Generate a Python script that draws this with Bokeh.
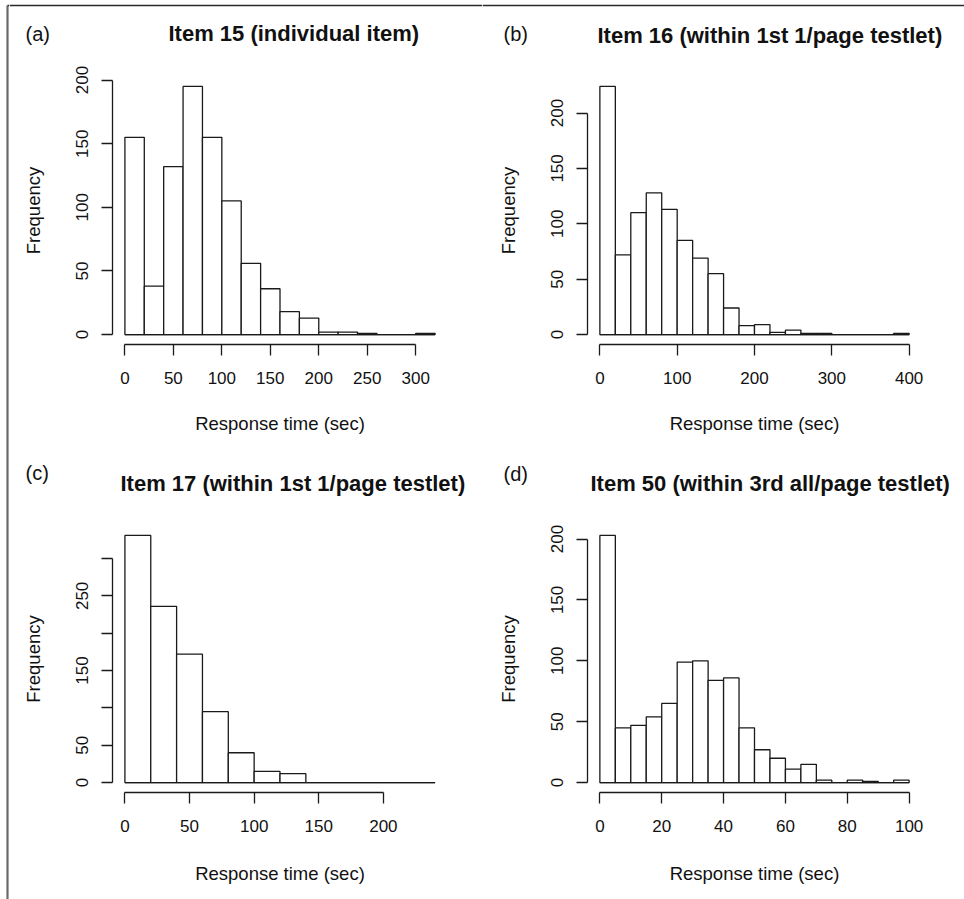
from bokeh.plotting import figure
from bokeh.models import Range1d, FixedTicker, ColumnDataSource
from bokeh.layouts import column, row
from bokeh.core.properties import value
from bokeh.embed import file_html
from bokeh.resources import INLINE

FONT = "Liberation Sans"
INK = "#1a1a1a"
TXT = "#111111"

# ---------------- data ----------------
a_breaks = list(range(0, 321, 20))
a_counts = [155, 38, 132, 195, 155, 105, 56, 36, 18, 13, 2, 2, 1, 0, 0, 1]
a_xticks = [0, 50, 100, 150, 200, 250, 300]
a_yticks = [0, 50, 100, 150, 200]

b_breaks = list(range(0, 401, 20))
b_counts = [224, 72, 110, 128, 113, 85, 69, 55, 24, 8, 9, 2, 4, 1, 1, 0, 0, 0, 0, 1]
b_xticks = [0, 100, 200, 300, 400]
b_yticks = [0, 50, 100, 150, 200]

c_breaks = list(range(0, 241, 20))
c_counts = [331, 236, 172, 95, 40, 15, 12, 0, 0, 0, 0, 0]
c_xticks = [0, 50, 100, 150, 200]
c_yticks = [0, 50, 100, 150, 200, 250, 300]
c_ylabels = {0: "0", 50: "50", 100: "", 150: "150", 200: "", 250: "250", 300: ""}

d_breaks = list(range(0, 101, 5))
d_counts = [203, 45, 47, 54, 65, 99, 100, 84, 86, 45, 27, 20, 11, 15, 2, 0, 2, 1, 0, 2]
d_xticks = [0, 20, 40, 60, 80, 100]
d_yticks = [0, 50, 100, 150, 200]

tags = ["(a)", "(b)", "(c)", "(d)"]
titles = ["Item 15 (individual item)",
          "Item 16 (within 1st 1/page testlet)",
          "Item 17 (within 1st 1/page testlet)",
          "Item 50 (within 3rd all/page testlet)"]
xlab = "Response time (sec)"
ylab = "Frequency"


def bare(w, h):
    """A figure whose frame fills the whole canvas, pixel coordinates, y down."""
    f = figure(width=w, height=h, output_backend="svg", toolbar_location=None,
               title=None, min_border=0, x_axis_location=None, y_axis_location=None,
               x_range=Range1d(0, w), y_range=Range1d(h, 0), frame_align=False)
    f.grid.visible = False
    f.outline_line_color = None
    f.background_fill_color = "white"
    f.border_fill_color = "white"
    return f


def header(w, h, tag, tag_pos, title, title_pos, top_line):
    f = bare(w, h)
    if top_line:
        f.line(x=[0, w], y=[5, 5], line_color="#2a2a2a", line_width=1.5)
    f.text(x=[tag_pos[0]], y=[tag_pos[1]], text=[tag], text_font=value(FONT),
           text_font_size=value("20px"), text_color=TXT,
           text_baseline="middle", text_align="left")
    f.text(x=[title_pos[0]], y=[title_pos[1]], text=[title], text_font=value(FONT),
           text_font_size=value("22px"), text_font_style="bold", text_color=TXT,
           text_baseline="middle", text_align="left")
    return f


def make_panel(breaks, counts, xticks, yticks, ylabels, w, h, bl, br, bt, bb, xlab_stand):
    span = breaks[-1] - breaks[0]
    ymax = max(counts)
    p = figure(width=w, height=h, output_backend="svg", toolbar_location=None, title=None,
               min_border_left=bl, min_border_right=br,
               min_border_top=bt, min_border_bottom=bb,
               x_range=Range1d(breaks[0] - 0.04 * span, breaks[-1] + 0.04 * span),
               y_range=Range1d(-0.04 * ymax, 1.04 * ymax))
    p.grid.visible = False
    p.outline_line_color = None
    p.background_fill_color = "white"
    p.border_fill_color = "white"

    src = ColumnDataSource(dict(left=breaks[:-1], right=breaks[1:],
                                top=counts, bottom=[0] * len(counts)))
    p.quad(left="left", right="right", top="top", bottom="bottom", source=src,
           fill_color="white", line_color=INK, line_width=1.3)
    p.line(x=[breaks[0], breaks[-1]], y=[0, 0], line_color=INK, line_width=1.3)

    for ax in (p.xaxis[0], p.yaxis[0]):
        ax.axis_line_color = INK
        ax.axis_line_width = 1.3
        ax.major_tick_line_color = INK
        ax.major_tick_line_width = 1.3
        ax.major_tick_in = 0
        ax.major_tick_out = 11
        ax.minor_tick_line_color = None
        ax.major_label_text_font = FONT
        ax.major_label_text_font_size = "17px"
        ax.major_label_text_color = TXT
        ax.axis_label_text_font = FONT
        ax.axis_label_text_font_size = "18.5px"
        ax.axis_label_text_font_style = "normal"
        ax.axis_label_text_color = TXT

    xa = p.xaxis[0]
    xa.ticker = FixedTicker(ticks=xticks)
    xa.bounds = (xticks[0], xticks[-1])
    xa.axis_label = xlab
    xa.major_label_standoff = 16
    xa.axis_label_standoff = xlab_stand

    ya = p.yaxis[0]
    ya.ticker = FixedTicker(ticks=yticks)
    ya.bounds = (yticks[0], yticks[-1])
    ya.axis_label = ylab
    ya.major_label_orientation = "vertical"
    ya.major_label_standoff = 13
    ya.axis_label_standoff = 30
    if ylabels:
        ya.major_label_overrides = ylabels
    return p


# left border strip
strip = bare(9, 899)
strip.line(x=[7, 7], y=[5, 899], line_color="#6a6a6a", line_width=2.2)
strip.line(x=[7, 9], y=[5, 5], line_color="#2a2a2a", line_width=1.5)

h1 = header(473, 60, tags[0], (16, 33), titles[0], (159, 33), True)
h2 = header(482, 60, tags[1], (21, 33), titles[1], (115, 35), True)
h3 = header(473, 60, tags[2], (16, 22), titles[2], (111, 33), False)
h4 = header(482, 60, tags[3], (21, 23), titles[3], (108, 33), False)

p1 = make_panel(a_breaks, a_counts, a_xticks, a_yticks, None, 473, 390, 103, 35, 16, 106, 26)
p2 = make_panel(b_breaks, b_counts, b_xticks, b_yticks, None, 482, 390, 105, 43, 16, 106, 26)
p3 = make_panel(c_breaks, c_counts, c_xticks, c_yticks, c_ylabels, 473, 389, 103, 35, 15, 107, 28)
p4 = make_panel(d_breaks, d_counts, d_xticks, d_yticks, None, 482, 389, 105, 43, 15, 107, 28)

layout = row(strip, column(h1, p1, h3, p3), column(h2, p2, h4, p4))
open("out.html", "w").write(file_html(layout, INLINE))
